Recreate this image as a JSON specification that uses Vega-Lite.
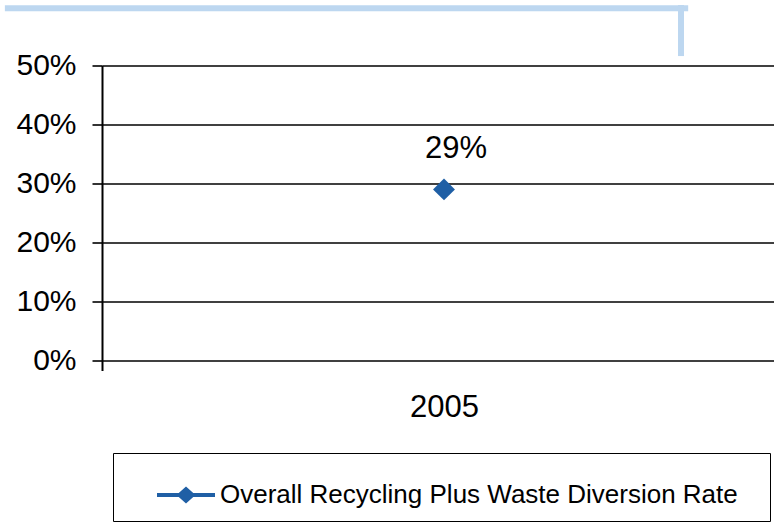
{
  "$schema": "https://vega.github.io/schema/vega-lite/v6.json",
  "width": 684,
  "height": 295,
  "autosize": {"type": "none"},
  "padding": {"left": 102, "top": 65.5, "right": 0, "bottom": 167.5},
  "config": {"font": "Liberation Sans", "view": {"stroke": null}},
  "layer": [
    {
      "data": {"values": [{"year": "2005", "rate": 0.29, "series": "Overall Recycling Plus Waste Diversion Rate"}]},
      "encoding": {
        "x": {
          "field": "year", "type": "nominal",
          "scale": {"paddingInner": 0, "paddingOuter": 0},
          "axis": {"title": null, "labelAngle": 0, "tickBand": "extent", "ticks": true, "tickSize": 10, "tickColor": "black", "tickWidth": 2, "domain": false, "grid": false, "labelFontSize": 31, "labelColor": "black", "labelPadding": 22}
        },
        "y": {
          "field": "rate", "type": "quantitative",
          "scale": {"domain": [0, 0.5], "nice": false},
          "axis": {"title": null, "format": ".0%", "values": [0, 0.1, 0.2, 0.3, 0.4, 0.5], "grid": true, "gridColor": "black", "gridWidth": 1.6, "gridOpacity": 1, "domainColor": "black", "domainWidth": 2, "tickColor": "black", "tickSize": 10, "tickWidth": 1.6, "labelFontSize": 30, "labelColor": "black", "labelPadding": 16}
        }
      },
      "layer": [
        {
          "mark": {"type": "point", "shape": "diamond", "filled": true, "size": 480, "opacity": 1},
          "encoding": {
            "color": {
              "field": "series", "type": "nominal",
              "scale": {"range": ["#1f5fa5"]},
              "legend": {"orient": "none", "legendX": 11, "legendY": 387.5, "title": " ", "titleOrient": "right", "titlePadding": 19, "titleFontSize": 8, "fillColor": "white", "strokeColor": "black", "padding": 13, "symbolType": "M-1,-0.07H-0.25L0,-0.29L0.25,-0.07H1V0.07H0.25L0,0.29L-0.25,0.07H-1Z", "symbolSize": 3364, "symbolStrokeWidth": 0, "symbolOffset": 31, "labelFontSize": 26, "labelColor": "black", "labelOffset": 5, "labelLimit": 800,
                "encode": {"legend": {"update": {"strokeWidth": {"value": 1.5}}}}}
            }
          }
        },
        {
          "mark": {"type": "text", "dy": -40, "dx": 12, "fontSize": 31, "baseline": "middle", "color": "black"},
          "encoding": {"text": {"field": "rate", "type": "quantitative", "format": ".0%"}}
        }
      ]
    },
    {
      "data": {"values": [{"x": -0.142, "x2": 0.857, "y": 0.597, "y2": 0.597}, {"x": 0.8465, "x2": 0.8465, "y": 0.6025, "y2": 0.516}]},
      "mark": {"type": "rule", "color": "#bdd7f0", "strokeWidth": 6, "clip": false},
      "encoding": {
        "x": {"field": "x", "type": "quantitative", "scale": {"domain": [0, 1], "nice": false, "zero": false}, "axis": null},
        "x2": {"field": "x2"},
        "y": {"field": "y", "type": "quantitative", "axis": {"title": null}},
        "y2": {"field": "y2"}
      }
    }
  ],
  "resolve": {"scale": {"x": "independent"}}
}
